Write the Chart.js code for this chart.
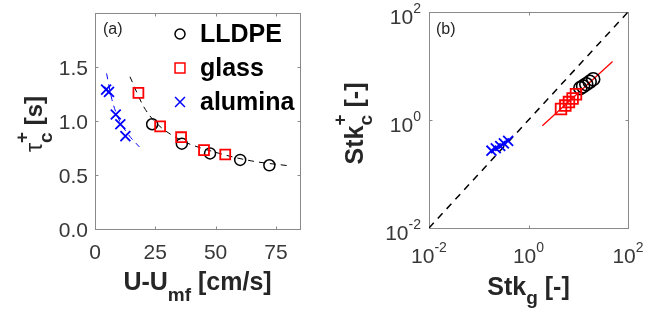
<!DOCTYPE html>
<html>
<head>
<meta charset="utf-8">
<script src="https://cdn.jsdelivr.net/npm/chart.js@4"></script>
<style>
  body { margin: 0; background: #fff; }
  #wrap { position: relative; width: 646px; height: 320px; }
  canvas { position: absolute; top: 0; }
</style>
</head>
<body>
<div id="wrap">
  <canvas id="chartA" width="330" height="320" style="left:0"></canvas>
  <canvas id="chartB" width="316" height="320" style="left:330px"></canvas>
</div>
<script>
// panel (a): tau_c+ vs U-Umf
const lldpeU = [23.7, 36, 47.7, 60.2, 72.3];
const lldpeTau = [0.97, 0.79, 0.70, 0.64, 0.59];
const glassU = [18, 27, 35.7, 45.2, 54];
const glassTau = [1.26, 0.95, 0.85, 0.73, 0.69];
const aluminaU = [4.6, 5.8, 8.6, 10.5, 12.6];
const aluminaTau = [1.29, 1.27, 1.06, 0.97, 0.86];
const blackFitU = [14.5, 20, 25, 35, 50, 65, 80.5];
const blackFitTau = [1.41, 1.14, 0.99, 0.83, 0.71, 0.63, 0.585];
const blueFitU = [4.8, 7, 10, 14, 18.4];
const blueFitTau = [1.44, 1.20, 1.01, 0.87, 0.76];
const xTicksA = [0, 25, 50, 75];
const yTicksA = [0, 0.5, 1.0, 1.5];

// panel (b): Stk_c+ vs Stk_g
const lldpeStkG = [11, 12.5, 14.5, 17, 20];
const lldpeStkC = [3.9, 4.2, 4.6, 5.1, 5.7];
const glassStkG = [4.5, 5.5, 6.5, 7.7, 9.0];
const glassStkC = [1.6, 1.85, 2.15, 2.5, 3.0];
const aluminaStkG = [0.18, 0.22, 0.27, 0.32, 0.39];
const aluminaStkC = [0.27, 0.30, 0.33, 0.37, 0.41];
const parityX = [0.01, 100];
const parityY = [0.01, 100];
const redFitG = [1.9, 49];
const redFitC = [0.78, 12.1];
const logTicks = [0.01, 1, 100];
const logTickExp = ["-2", "0", "2"];

const FONT = '"Liberation Sans", Arial, sans-serif';
const axisGray = "#8a8a8a";
const tickColor = "#383838";

function pts(xs, ys) {
  return xs.map((x, i) => ({ x: x, y: ys[i] }));
}

function runWidth(ctx, r) {
  ctx.font = r.font;
  if (r.sub !== undefined) {
    return Math.max(ctx.measureText(r.sub).width, ctx.measureText(r.sup).width);
  }
  return ctx.measureText(r.t).width;
}

function drawRuns(ctx, runs, x, y, align) {
  const total = runs.reduce((s, r) => s + runWidth(ctx, r), 0);
  let cx = align === "center" ? x - total / 2 : align === "right" ? x - total : x;
  ctx.textAlign = "left";
  ctx.textBaseline = "alphabetic";
  runs.forEach(r => {
    const w = runWidth(ctx, r);
    ctx.font = r.font;
    if (r.sub !== undefined) {
      ctx.fillText(r.sub, cx, y + r.subDy);
      ctx.fillText(r.sup, cx, y + r.supDy);
    } else {
      ctx.fillText(r.t, cx, y + (r.dy || 0));
    }
    cx += w;
  });
}

function drawMarker(ctx, style, radius, color, x, y) {
  ctx.save();
  ctx.strokeStyle = color;
  ctx.fillStyle = "rgba(0,0,0,0)";
  ctx.lineWidth = 1.5;
  if (Chart.helpers && Chart.helpers.drawPoint) {
    Chart.helpers.drawPoint(ctx, { pointStyle: style, radius: radius, rotation: 0, borderWidth: 1.5 }, x, y);
  }
  ctx.restore();
}

// box + inward ticks
function drawFrame(chart, xTickVals, yTickVals) {
  const ctx = chart.ctx;
  const a = chart.chartArea;
  const xs = chart.scales.x, ys = chart.scales.y;
  const L = Math.round(a.left) + 0.5, R = Math.round(a.right) + 0.5;
  const T = Math.round(a.top) + 0.5, B = Math.round(a.bottom) + 0.5;
  ctx.save();
  ctx.strokeStyle = axisGray;
  ctx.lineWidth = 1;
  ctx.strokeRect(L, T, R - L, B - T);
  ctx.beginPath();
  xTickVals.forEach(v => {
    const px = Math.round(xs.getPixelForValue(v)) + 0.5;
    ctx.moveTo(px, B); ctx.lineTo(px, B - 3);
    ctx.moveTo(px, T); ctx.lineTo(px, T + 3);
  });
  yTickVals.forEach(v => {
    const py = Math.round(ys.getPixelForValue(v)) + 0.5;
    ctx.moveTo(L, py); ctx.lineTo(L + 3, py);
    ctx.moveTo(R, py); ctx.lineTo(R - 3, py);
  });
  ctx.stroke();
  ctx.restore();
}

const frameA = {
  id: "frameA",
  beforeDatasetsDraw(chart) {
    drawFrame(chart, xTicksA, yTicksA);
  },
  afterDraw(chart) {
    const ctx = chart.ctx;
    const a = chart.chartArea;
    const xs = chart.scales.x, ys = chart.scales.y;
    ctx.save();
    ctx.fillStyle = tickColor;
    ctx.font = "21px " + FONT;
    ctx.textAlign = "center";
    ctx.textBaseline = "alphabetic";
    xTicksA.forEach(v => ctx.fillText(String(v), xs.getPixelForValue(v), 259));
    ctx.textAlign = "right";
    yTicksA.forEach(v => ctx.fillText(v.toFixed(1), a.left - 7, ys.getPixelForValue(v) + 7.5));

    // axis titles
    ctx.fillStyle = "#262626";
    const big = "bold 25px " + FONT;
    const sub = "bold 19px " + FONT;
    drawRuns(ctx, [
      { t: "U-U", font: big },
      { t: "mf", font: sub, dy: 11 },
      { t: " [cm/s]", font: big }
    ], (a.left + a.right) / 2, 290, "center");

    ctx.save();
    ctx.translate(42, 124);
    ctx.rotate(-Math.PI / 2);
    drawRuns(ctx, [
      { t: "\u03c4", font: "23px " + FONT },
      { sub: "c", sup: "+", font: "bold 19px " + FONT, subDy: 10, supDy: -14 },
      { t: " [s]", font: "bold 24px " + FONT }
    ], 0, 0, "center");
    ctx.restore();

    // panel tag
    ctx.fillStyle = "#262626";
    ctx.font = "16px " + FONT;
    ctx.textAlign = "left";
    ctx.fillText("(a)", a.left + 8, 33.5);

    // legend
    const legend = [
      { label: "LLDPE", style: "circle", r: 5, color: "#000000" },
      { label: "glass", style: "rect", r: 7, color: "#ff0000" },
      { label: "alumina", style: "crossRot", r: 7, color: "#0000ff" }
    ];
    legend.forEach((item, i) => {
      const base = 42 + i * 34;
      drawMarker(ctx, item.style, item.r, item.color, 180, base - 8);
      ctx.fillStyle = "#000000";
      ctx.font = "bold 25px " + FONT;
      ctx.textAlign = "left";
      ctx.fillText(item.label, 200, base);
    });
    ctx.restore();
  }
};

const frameB = {
  id: "frameB",
  beforeDatasetsDraw(chart) {
    drawFrame(chart, [1], [1]);
  },
  afterDraw(chart) {
    const ctx = chart.ctx;
    const a = chart.chartArea;
    const xs = chart.scales.x, ys = chart.scales.y;
    ctx.save();
    ctx.fillStyle = tickColor;
    const main = "21px " + FONT;
    const exp = "14px " + FONT;
    logTicks.forEach((v, i) => {
      drawRuns(ctx, [
        { t: "10", font: main },
        { t: logTickExp[i], font: exp, dy: -11 }
      ], xs.getPixelForValue(v), 263, "center");
      const py = ys.getPixelForValue(v);
      drawRuns(ctx, [
        { t: "10", font: main },
        { t: logTickExp[i], font: exp, dy: -11 }
      ], a.left - 8, py + 12, "right");
    });

    ctx.fillStyle = "#262626";
    const big = "bold 25px " + FONT;
    const sub = "bold 19px " + FONT;
    drawRuns(ctx, [
      { t: "Stk", font: big },
      { t: "g", font: sub, dy: 9 },
      { t: " [-]", font: big }
    ], (a.left + a.right) / 2, 295, "center");

    ctx.save();
    ctx.translate(33, 123.5);
    ctx.rotate(-Math.PI / 2);
    drawRuns(ctx, [
      { t: "Stk", font: "bold 25px " + FONT },
      { sub: "c", sup: "+", font: "bold 19px " + FONT, subDy: 9, supDy: -17 },
      { t: " [-]", font: "bold 25px " + FONT }
    ], 0, 0, "center");
    ctx.restore();

    ctx.font = "16px " + FONT;
    ctx.textAlign = "left";
    ctx.fillText("(b)", a.left + 7, 33.5);
    ctx.restore();
  }
};

const hiddenScale = { display: false };

new Chart(document.getElementById("chartA"), {
  type: "scatter",
  data: {
    datasets: [
      { label: "LLDPE", data: pts(lldpeU, lldpeTau), pointStyle: "circle", pointRadius: 5.5,
        borderColor: "#000000", backgroundColor: "rgba(0,0,0,0)", borderWidth: 1.5, order: 3 },
      { label: "glass", data: pts(glassU, glassTau), pointStyle: "rect", pointRadius: 7,
        borderColor: "#ff0000", backgroundColor: "rgba(0,0,0,0)", borderWidth: 1.8, order: 2 },
      { label: "alumina", data: pts(aluminaU, aluminaTau), pointStyle: "crossRot", pointRadius: 7,
        borderColor: "#0000ff", backgroundColor: "#0000ff", borderWidth: 1.8, order: 1 },
      { label: "fit LLDPE/glass", data: pts(blackFitU, blackFitTau), showLine: true, pointRadius: 0,
        borderColor: "#000000", borderWidth: 1, borderDash: [6, 5], cubicInterpolationMode: "monotone", order: 10 },
      { label: "fit alumina", data: pts(blueFitU, blueFitTau), showLine: true, pointRadius: 0,
        borderColor: "#0000ff", borderWidth: 1, borderDash: [6, 5], cubicInterpolationMode: "monotone", order: 11 }
    ]
  },
  options: {
    responsive: false,
    animation: false,
    layout: { padding: { left: 95, right: 30, top: 13, bottom: 91 } },
    scales: {
      x: Object.assign({ type: "linear", min: 0, max: 85 }, hiddenScale),
      y: Object.assign({ type: "linear", min: 0, max: 2 }, hiddenScale)
    },
    plugins: { legend: { display: false }, tooltip: { enabled: false } }
  },
  plugins: [frameA]
});

new Chart(document.getElementById("chartB"), {
  type: "scatter",
  data: {
    datasets: [
      { label: "LLDPE", data: pts(lldpeStkG, lldpeStkC), pointStyle: "circle", pointRadius: 6.5,
        borderColor: "#000000", backgroundColor: "rgba(0,0,0,0)", borderWidth: 1.6, order: 3 },
      { label: "glass", data: pts(glassStkG, glassStkC), pointStyle: "rect", pointRadius: 7.5,
        borderColor: "#ff0000", backgroundColor: "rgba(0,0,0,0)", borderWidth: 1.8, order: 2 },
      { label: "alumina", data: pts(aluminaStkG, aluminaStkC), pointStyle: "crossRot", pointRadius: 7,
        borderColor: "#0000ff", backgroundColor: "#0000ff", borderWidth: 1.8, order: 1 },
      { label: "parity", data: pts(parityX, parityY), showLine: true, pointRadius: 0,
        borderColor: "#000000", borderWidth: 1.5, borderDash: [7, 6], order: 10 },
      { label: "fit", data: pts(redFitG, redFitC), showLine: true, pointRadius: 0,
        borderColor: "#ff0000", borderWidth: 1.3, order: 9 }
    ]
  },
  options: {
    responsive: false,
    animation: false,
    layout: { padding: { left: 99, right: 18, top: 12, bottom: 92 } },
    scales: {
      x: Object.assign({ type: "logarithmic", min: 0.01, max: 100 }, hiddenScale),
      y: Object.assign({ type: "logarithmic", min: 0.01, max: 100 }, hiddenScale)
    },
    plugins: { legend: { display: false }, tooltip: { enabled: false } }
  },
  plugins: [frameB]
});
</script>
</body>
</html>
